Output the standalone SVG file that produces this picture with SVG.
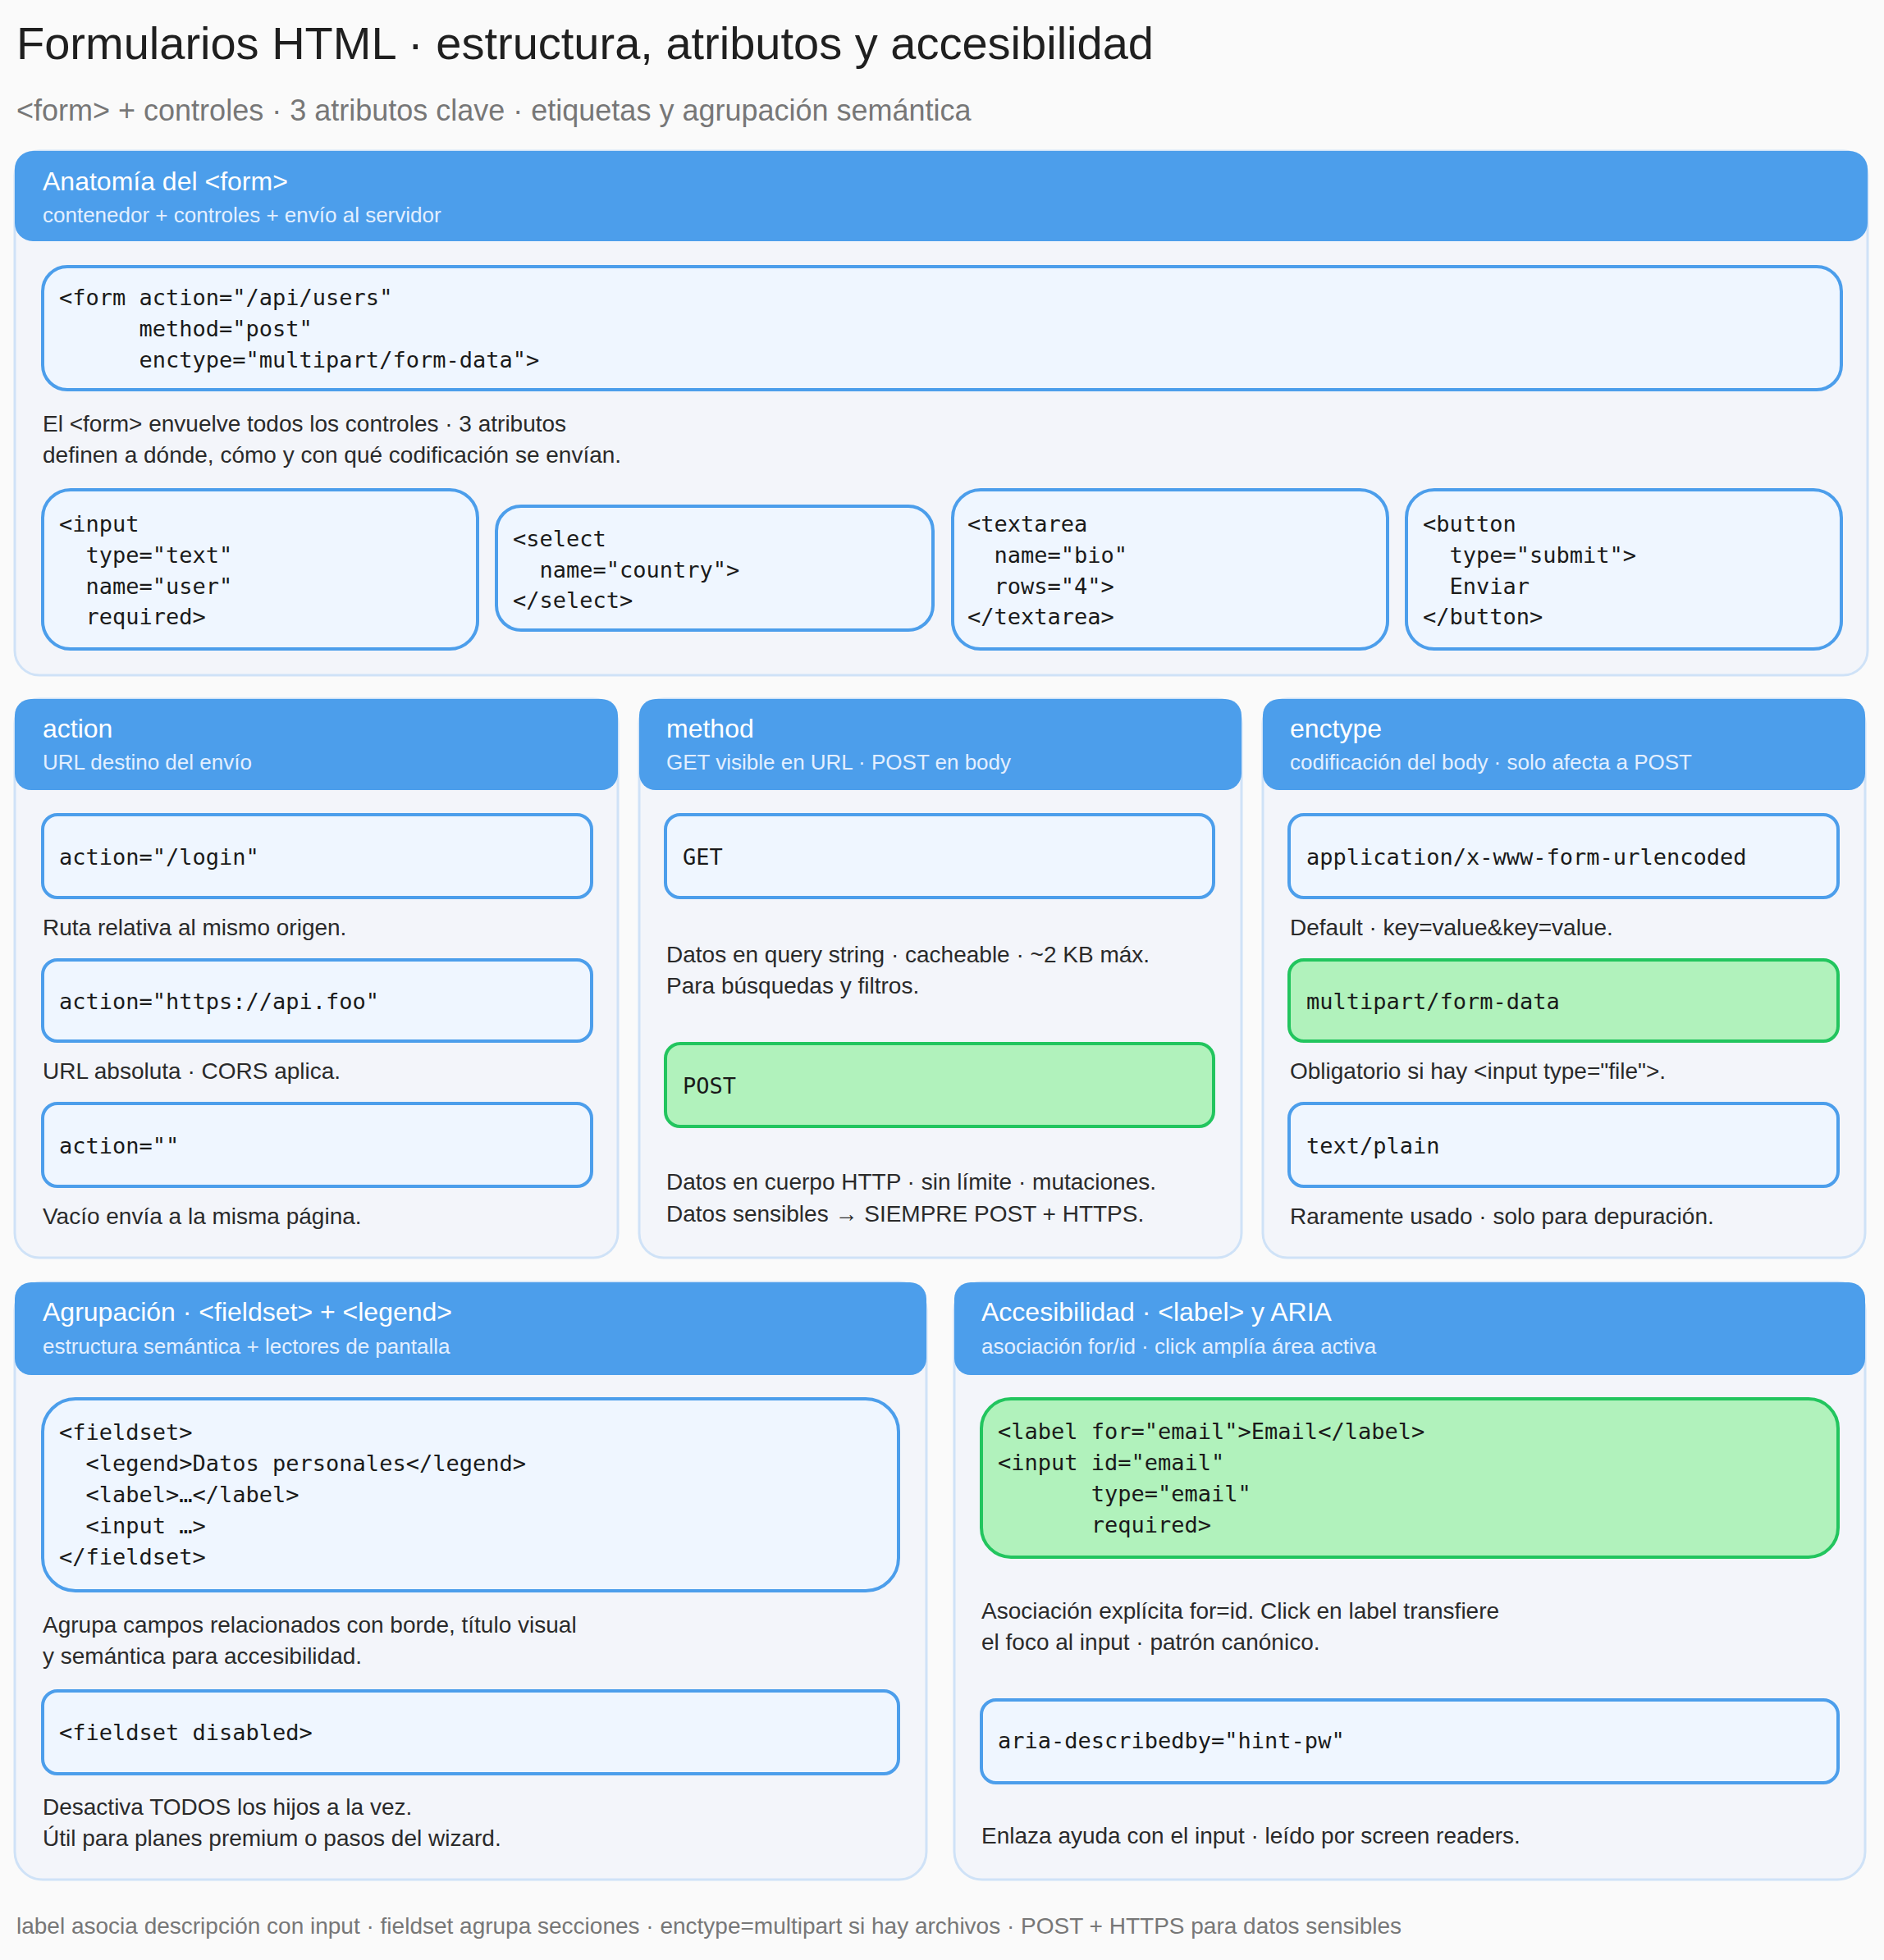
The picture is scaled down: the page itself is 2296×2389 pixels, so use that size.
<svg xmlns="http://www.w3.org/2000/svg" width="2296" height="2389" viewBox="0 0 2296 2389">
<style>
.t{font-family:"Liberation Sans",Arial,sans-serif}
.h1{font-size:56px;fill:#1f1f1f}
.sub{font-size:36px;fill:#777}
.ht{font-size:32px;fill:#fff}
.hs{font-size:26px;fill:#e3efff}
.d{font-size:28px;fill:#2a2a2a}
.m{font-family:"DejaVu Sans Mono","Liberation Mono",monospace;font-size:27px;fill:#1a1a1a;white-space:pre}
.panel{fill:#f3f5fa;stroke:#cfe2f7;stroke-width:3}
.hdr{fill:#4c9eeb}
.box{fill:#eff6ff;stroke:#4c9eeb;stroke-width:4}
.gbox{fill:#b1f2bc;stroke:#22c55e;stroke-width:4}
.foot{font-size:28px;fill:#777}
</style>
<rect width="2296" height="2389" fill="#fafafa"/>
<text class="t h1" x="20" y="72">Formularios HTML · estructura, atributos y accesibilidad</text>
<text class="t sub" x="20" y="147">&lt;form&gt; + controles · 3 atributos clave · etiquetas y agrupación semántica</text>

<g id="anatomia">
<rect class="panel" x="18" y="184" width="2258" height="639" rx="30"/>
<rect class="hdr" x="18" y="184" width="2258" height="110" rx="22"/>
<text class="t ht" x="52" y="232">Anatomía del &lt;form&gt;</text>
<text class="t hs" x="52" y="271">contenedor + controles + envío al servidor</text>
<rect class="box" x="52" y="325" width="2192" height="150" rx="30"/>
<text class="m" x="72" y="372">&lt;form action="/api/users"</text>
<text class="m" x="72" y="410">      method="post"</text>
<text class="m" x="72" y="448">      enctype="multipart/form-data"&gt;</text>
<text class="t d" x="52" y="526">El &lt;form&gt; envuelve todos los controles · 3 atributos</text>
<text class="t d" x="52" y="564">definen a dónde, cómo y con qué codificación se envían.</text>
<rect class="box" x="52" y="597" width="530" height="194" rx="34"/>
<text class="m" x="72" y="648">&lt;input</text>
<text class="m" x="72" y="686">  type="text"</text>
<text class="m" x="72" y="724">  name="user"</text>
<text class="m" x="72" y="761">  required&gt;</text>
<rect class="box" x="605" y="617" width="532" height="151" rx="30"/>
<text class="m" x="625" y="666">&lt;select</text>
<text class="m" x="625" y="704">  name="country"&gt;</text>
<text class="m" x="625" y="741">&lt;/select&gt;</text>
<rect class="box" x="1161" y="597" width="530" height="194" rx="34"/>
<text class="m" x="1179" y="648">&lt;textarea</text>
<text class="m" x="1179" y="686">  name="bio"</text>
<text class="m" x="1179" y="724">  rows="4"&gt;</text>
<text class="m" x="1179" y="761">&lt;/textarea&gt;</text>
<rect class="box" x="1714" y="597" width="530" height="194" rx="34"/>
<text class="m" x="1734" y="648">&lt;button</text>
<text class="m" x="1734" y="686">  type="submit"&gt;</text>
<text class="m" x="1734" y="724">  Enviar</text>
<text class="m" x="1734" y="761">&lt;/button&gt;</text>
</g>

<g id="action">
<rect class="panel" x="18" y="852" width="735" height="681" rx="30"/>
<rect class="hdr" x="18" y="852" width="735" height="111" rx="20"/>
<text class="t ht" x="52" y="899">action</text>
<text class="t hs" x="52" y="938">URL destino del envío</text>
<rect class="box" x="52" y="993" width="669" height="101" rx="18"/>
<text class="m" x="72" y="1054">action="/login"</text>
<text class="t d" x="52" y="1140">Ruta relativa al mismo origen.</text>
<rect class="box" x="52" y="1170" width="669" height="99" rx="18"/>
<text class="m" x="72" y="1230">action="https://api.foo"</text>
<text class="t d" x="52" y="1315">URL absoluta · CORS aplica.</text>
<rect class="box" x="52" y="1345" width="669" height="101" rx="18"/>
<text class="m" x="72" y="1406">action=""</text>
<text class="t d" x="52" y="1492">Vacío envía a la misma página.</text>
</g>

<g id="method">
<rect class="panel" x="779" y="852" width="734" height="681" rx="30"/>
<rect class="hdr" x="779" y="852" width="734" height="111" rx="20"/>
<text class="t ht" x="812" y="899">method</text>
<text class="t hs" x="812" y="938">GET visible en URL · POST en body</text>
<rect class="box" x="811" y="993" width="668" height="101" rx="18"/>
<text class="m" x="832" y="1054">GET</text>
<text class="t d" x="812" y="1173">Datos en query string · cacheable · ~2 KB máx.</text>
<text class="t d" x="812" y="1211">Para búsquedas y filtros.</text>
<rect class="gbox" x="811" y="1272" width="668" height="101" rx="18"/>
<text class="m" x="832" y="1333">POST</text>
<text class="t d" x="812" y="1450">Datos en cuerpo HTTP · sin límite · mutaciones.</text>
<text class="t d" x="812" y="1489">Datos sensibles → SIEMPRE POST + HTTPS.</text>
</g>

<g id="enctype">
<rect class="panel" x="1539" y="852" width="734" height="681" rx="30"/>
<rect class="hdr" x="1539" y="852" width="734" height="111" rx="20"/>
<text class="t ht" x="1572" y="899">enctype</text>
<text class="t hs" x="1572" y="938">codificación del body · solo afecta a POST</text>
<rect class="box" x="1571" y="993" width="669" height="101" rx="18"/>
<text class="m" x="1592" y="1054">application/x-www-form-urlencoded</text>
<text class="t d" x="1572" y="1140">Default · key=value&amp;key=value.</text>
<rect class="gbox" x="1571" y="1170" width="669" height="99" rx="18"/>
<text class="m" x="1592" y="1230">multipart/form-data</text>
<text class="t d" x="1572" y="1315">Obligatorio si hay &lt;input type="file"&gt;.</text>
<rect class="box" x="1571" y="1345" width="669" height="101" rx="18"/>
<text class="m" x="1592" y="1406">text/plain</text>
<text class="t d" x="1572" y="1492">Raramente usado · solo para depuración.</text>
</g>

<g id="agrupacion">
<rect class="panel" x="18" y="1563" width="1111" height="728" rx="34"/>
<rect class="hdr" x="18" y="1563" width="1111" height="113" rx="20"/>
<text class="t ht" x="52" y="1610">Agrupación · &lt;fieldset&gt; + &lt;legend&gt;</text>
<text class="t hs" x="52" y="1650">estructura semántica + lectores de pantalla</text>
<rect class="box" x="52" y="1705" width="1043" height="234" rx="40"/>
<text class="m" x="72" y="1755">&lt;fieldset&gt;</text>
<text class="m" x="72" y="1793">  &lt;legend&gt;Datos personales&lt;/legend&gt;</text>
<text class="m" x="72" y="1831">  &lt;label&gt;…&lt;/label&gt;</text>
<text class="m" x="72" y="1869">  &lt;input …&gt;</text>
<text class="m" x="72" y="1907">&lt;/fieldset&gt;</text>
<text class="t d" x="52" y="1990">Agrupa campos relacionados con borde, título visual</text>
<text class="t d" x="52" y="2028">y semántica para accesibilidad.</text>
<rect class="box" x="52" y="2061" width="1043" height="101" rx="18"/>
<text class="m" x="72" y="2121">&lt;fieldset disabled&gt;</text>
<text class="t d" x="52" y="2212">Desactiva TODOS los hijos a la vez.</text>
<text class="t d" x="52" y="2250">Útil para planes premium o pasos del wizard.</text>
</g>

<g id="accesibilidad">
<rect class="panel" x="1163" y="1563" width="1110" height="728" rx="34"/>
<rect class="hdr" x="1163" y="1563" width="1110" height="113" rx="20"/>
<text class="t ht" x="1196" y="1610">Accesibilidad · &lt;label&gt; y ARIA</text>
<text class="t hs" x="1196" y="1650">asociación for/id · click amplía área activa</text>
<rect class="gbox" x="1196" y="1705" width="1044" height="193" rx="36"/>
<text class="m" x="1216" y="1754">&lt;label for="email"&gt;Email&lt;/label&gt;</text>
<text class="m" x="1216" y="1792">&lt;input id="email"</text>
<text class="m" x="1216" y="1830">       type="email"</text>
<text class="m" x="1216" y="1868">       required&gt;</text>
<text class="t d" x="1196" y="1973">Asociación explícita for=id. Click en label transfiere</text>
<text class="t d" x="1196" y="2011">el foco al input · patrón canónico.</text>
<rect class="box" x="1196" y="2072" width="1044" height="101" rx="18"/>
<text class="m" x="1216" y="2131">aria-describedby="hint-pw"</text>
<text class="t d" x="1196" y="2247">Enlaza ayuda con el input · leído por screen readers.</text>
</g>

<g id="connectors"></g>
<text class="t foot" x="20" y="2357">label asocia descripción con input · fieldset agrupa secciones · enctype=multipart si hay archivos · POST + HTTPS para datos sensibles</text>
</svg>
